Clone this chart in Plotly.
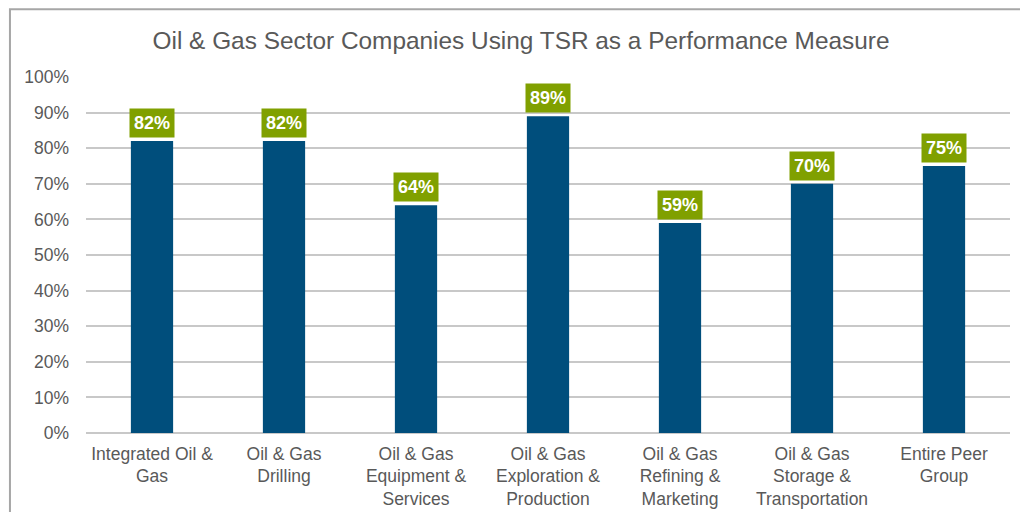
import plotly.graph_objects as go

categories = ["Integrated Oil &<br>Gas", "Oil & Gas<br>Drilling", "Oil & Gas<br>Equipment &<br>Services",
              "Oil & Gas<br>Exploration &<br>Production", "Oil & Gas<br>Refining &<br>Marketing",
              "Oil & Gas<br>Storage &<br>Transportation", "Entire Peer<br>Group"]
values = [0.82, 0.82, 0.64, 0.89, 0.59, 0.70, 0.75]
tick_vals = [0, 0.1, 0.2, 0.3, 0.4, 0.5, 0.6, 0.7, 0.8, 0.9, 1.0]
tick_text = ["0%", "10%", "20%", "30%", "40%", "50%", "60%", "70%", "80%", "90%", "100%"]

FONT = "Liberation Sans, Arial, sans-serif"
GRAY = "#595959"

fig = go.Figure()
fig.add_trace(go.Bar(x=categories, y=values, marker=dict(color="#004E7C", line=dict(width=0)),
                     width=0.32, hoverinfo="skip"))

for c, v in zip(categories, values):
    fig.add_annotation(x=c, y=v, xref="x", yref="y", text=f"<b>{round(v*100)}%</b>",
                       showarrow=False, yanchor="bottom", yshift=3,
                       bgcolor="#80A000", borderpad=4,
                       font=dict(family=FONT, size=18, color="white"))

# outer frame (right and bottom edges fall outside the picture)
fig.add_shape(type="rect", xref="paper", yref="paper", x0=-0.0823, x1=1.05, y0=-0.30, y1=1.19,
              line=dict(color="#A6A6A6", width=2), fillcolor="rgba(0,0,0,0)", layer="above")

fig.update_layout(
    width=1020, height=512,
    margin=dict(l=86, r=10, t=77, b=79),
    paper_bgcolor="white", plot_bgcolor="white",
    showlegend=False,
    title=dict(text="Oil & Gas Sector Companies Using TSR as a Performance Measure",
               x=521/1020, xanchor="center", y=1-40/512, yanchor="middle",
               font=dict(family=FONT, size=24.4, color=GRAY)),
    font=dict(family=FONT, color=GRAY),
    xaxis=dict(showgrid=False, showline=False, ticks="", tickfont=dict(size=17.5, color=GRAY),
               tickangle=0, automargin=False, ticklabelstandoff=8),
    yaxis=dict(range=[0, 1.0], tickvals=tick_vals, ticktext=tick_text,
               showgrid=True, gridcolor="#C8C8C8", gridwidth=1.5,
               zeroline=True, zerolinecolor="#C8C8C8", zerolinewidth=1.5,
               showline=False, ticks="", tickfont=dict(size=17.5, color=GRAY),
               ticklabelstandoff=16, automargin=False),
)

fig.write_html("out.html", config={"displayModeBar": False},
               post_script="document.body.style.margin='0';document.body.style.overflow='hidden';")
